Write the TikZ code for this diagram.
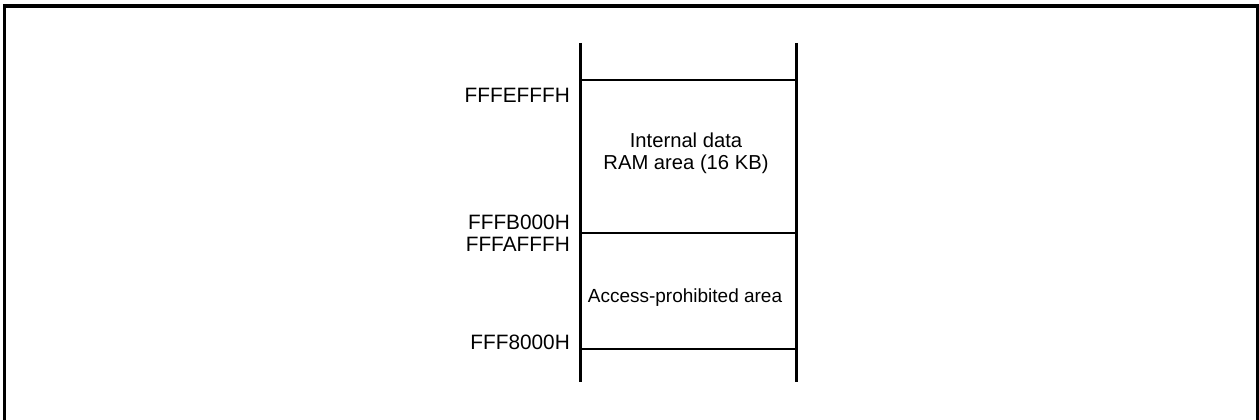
\documentclass[tikz,border=0pt]{standalone}
\usepackage{fontspec}
\setmainfont{Liberation Sans}
\begin{document}
\begin{tikzpicture}[x=1pt,y=-1pt,
  frame/.style={line width=3.4pt},
  colline/.style={line width=3pt},
  divline/.style={line width=1.2pt},
  addr/.style={anchor=base east,inner sep=0pt,font=\fontsize{20.8}{24}\selectfont},
  area/.style={inner sep=0pt,align=center,font=\fontsize{20.2}{22}\selectfont}]
\useasboundingbox (0,0) rectangle (1259,420);
% outer frame (open at bottom)
\coordinate (fbl) at (4.5,421);
\coordinate (ftl) at (4.5,6);
\coordinate (ftr) at (1257.5,6);
\coordinate (fbr) at (1257.5,421);
\draw[frame] (fbl) -- (ftl) -- (ftr) -- (fbr);
% column edges
\coordinate (lt) at (580,43);
\coordinate (lb) at (580,382);
\coordinate (rt) at (796,43);
\coordinate (rb) at (796,382);
\draw[colline] (lt) -- (lb);
\draw[colline] (rt) -- (rb);
% boundaries
\coordinate (l1) at (580,80);   \coordinate (r1) at (796,80);
\coordinate (l2) at (580,233);  \coordinate (r2) at (796,233);
\coordinate (l3) at (580,349);  \coordinate (r3) at (796,349);
\draw[divline] (l1) -- (r1);
\draw[divline] (l2) -- (r2);
\draw[divline] (l3) -- (r3);
% addresses
\node[addr] (a1) at (570,102.7) {FFFEFFFH};
\node[addr] (a2) at (570,229.3) {FFFB000H};
\node[addr] (a3) at (570,251.7) {FFFAFFFH};
\node[addr] (a4) at (570,349) {FFF8000H};
% area labels
\node[area] (ram) at (686,152.8) {Internal data\\RAM area (16 KB)};
\node[area,anchor=base,font=\fontsize{19}{22}\selectfont] (acc) at (685,302.7) {Access-prohibited area};
\end{tikzpicture}
\end{document}
